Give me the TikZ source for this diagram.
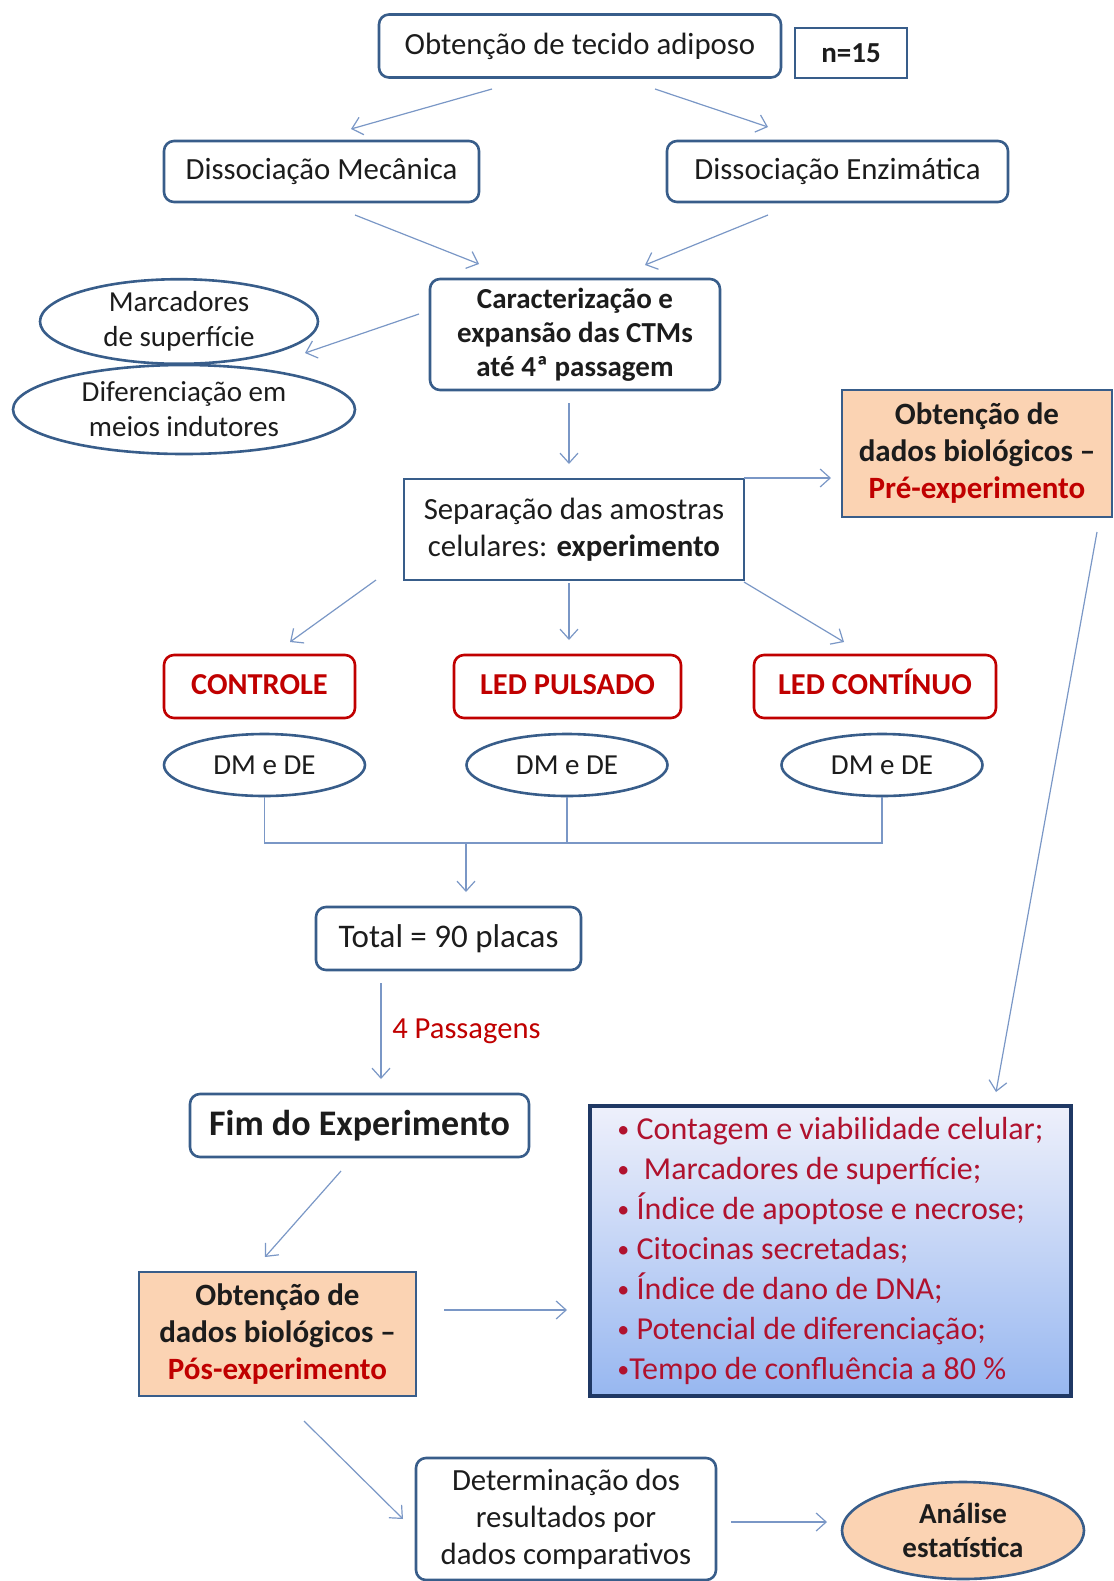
\documentclass[tikz,border=0pt]{standalone}
\usepackage{fontspec}
\setmainfont{Carlito}
\usetikzlibrary{shapes.geometric, positioning, arrows.meta, calc}
\definecolor{azul}{HTML}{385D8A}
\definecolor{marinho}{HTML}{1F3864}
\definecolor{seta}{HTML}{7A97C6}
\definecolor{verm}{HTML}{C00000}
\definecolor{rubi}{HTML}{B0122E}
\definecolor{laranja}{HTML}{FBD3B3}
\definecolor{texto}{HTML}{1C1C1C}
\definecolor{azulclaro}{HTML}{EEF0FB}
\definecolor{azulforte}{HTML}{97B7F0}
\newcommand{\bala}{\raisebox{0.12ex}{\fontsize{12}{12}\selectfont•}}

\begin{document}
\begin{tikzpicture}[x=0.5pt,y=-0.5pt,font=\fontsize{15.4}{18.5}\selectfont,
    caixa/.style={draw=azul,line width=1.3pt,rounded corners=5pt,text=texto,align=center,inner sep=1pt},
    reta/.style={draw=azul,line width=1.3pt,text=texto,align=center,inner sep=1pt},
    grupo/.style={draw=verm,line width=1.3pt,rounded corners=5pt,text=verm,font=\fontsize{15.2}{17}\selectfont\bfseries,
        minimum height=31.5pt,text height=11pt,text depth=3pt},
    elipse/.style={ellipse,draw=azul,line width=1.3pt,text=texto,align=center,inner sep=0pt,
        font=\fontsize{14.5}{17.5}\selectfont},
    dados/.style={reta,fill=laranja,font=\fontsize{15.5}{18.5}\selectfont\bfseries},
    arr/.style={seta,line width=0.6pt,-{Straight Barb[length=5pt,width=9pt]}},
    linha/.style={draw=seta,line width=0.6pt}]
    \useasboundingbox (0,0) rectangle (1114,1581);

    % etapas iniciais
    \node[caixa,minimum width=201pt,minimum height=31.5pt] (obt) at (580,46) {Obtenção de tecido adiposo};
    \node[reta,minimum width=56pt,minimum height=25pt,font=\fontsize{14.5}{17}\selectfont\bfseries] (n) at (851,53) {n=15};
    \node[caixa,minimum width=157.5pt,minimum height=30.5pt] (mec) at (321.5,171.5) {Dissociação Mecânica};
    \node[caixa,minimum width=170.5pt,minimum height=30.5pt] (enz) at (837.5,171.5) {Dissociação Enzimática};
    \node[caixa,minimum width=145pt,minimum height=55.5pt,font=\fontsize{14.5}{17}\selectfont\bfseries] (carac) at (575,334.5)
        {Caracterização e\\expansão das CTMs\\até 4ª passagem};
    \node[elipse,minimum width=139pt,minimum height=41.5pt] (marc) at (179,321.5) {Marcadores\\de superfície};
    \node[elipse,minimum width=171pt,minimum height=44.5pt] (dif) at (184,409.5) {Diferenciação em\\meios indutores};
    \node[dados,minimum width=135pt,minimum height=63.5pt] (pre) at (977,453.5)
        {Obtenção de\\dados biológicos –\\\textcolor{verm}{Pré-experimento}};
    \node[reta,minimum width=170pt,minimum height=50.5pt] (sep) at (574,529.5)
        {Separação das amostras\\celulares: \textbf{experimento}};

    % grupos
    \node[grupo,minimum width=95.5pt] (ctrl) at (259.5,686.5) {CONTROLE};
    \node[grupo,minimum width=113.5pt] (puls) at (567.5,686.5) {LED PULSADO};
    \node[grupo,minimum width=121pt] (cont) at (875,686.5) {LED CONTÍNUO};
    \node[elipse,minimum width=100.5pt,minimum height=31pt] (dm1) at (264.5,765) {DM e DE};
    \node[elipse,minimum width=100.5pt,minimum height=31pt] (dm2) at (567,765) {DM e DE};
    \node[elipse,minimum width=100.5pt,minimum height=31pt] (dm3) at (882,765) {DM e DE};

    % etapas finais
    \node[caixa,minimum width=132.5pt,minimum height=31.5pt,font=\fontsize{16.5}{19}\selectfont] (total) at (448.5,938.5) {Total = 90 placas};
    \node[caixa,minimum width=169.5pt,minimum height=31.5pt,font=\fontsize{18}{21}\selectfont\bfseries] (fim) at (359.5,1125.5) {Fim do Experimento};
    \node[reta,draw=marinho,line width=2pt,top color=azulclaro,bottom color=azulforte,minimum width=240.5pt,minimum height=145pt,
        text=rubi,align=left,font=\fontsize{16}{20}\selectfont] (lista) at (830.5,1251)
        {\bala\ Contagem e viabilidade celular;\\
         \bala\ \ Marcadores de superfície;\\
         \bala\ Índice de apoptose e necrose;\\
         \bala\ Citocinas secretadas;\\
         \bala\ Índice de dano de DNA;\\
         \bala\ Potencial de diferenciação;\\
         \bala Tempo de confluência a 80 \%};
    \node[dados,minimum width=138.5pt,minimum height=62pt] (pos) at (277.5,1334)
        {Obtenção de\\dados biológicos –\\\textcolor{verm}{Pós-experimento}};
    \node[caixa,minimum width=150pt,minimum height=61pt] (det) at (566,1519)
        {Determinação dos\\resultados por\\dados comparativos};
    \node[elipse,fill=laranja,minimum width=121pt,minimum height=48.5pt,font=\fontsize{14.5}{17}\selectfont\bfseries] (ana) at (963,1530.5)
        {Análise\\estatística};

    % pontas livres das setas
    \coordinate (a1) at (492,89);   \coordinate (b1) at (351,129);
    \coordinate (a2) at (655,89);   \coordinate (b2) at (768,127);
    \coordinate (a3) at (355,215);  \coordinate (b3) at (479,264);
    \coordinate (a4) at (768,215);  \coordinate (b4) at (645,265);
    \coordinate (a5) at (419,314);  \coordinate (b5) at (305,353);
    \coordinate (a6) at (569,403);  \coordinate (b6) at (569,464);
    \coordinate (a7) at (744,478);  \coordinate (b7) at (831,478);
    \coordinate (a8) at (1097,532); \coordinate (b8) at (996,1092);
    \coordinate (a9) at (376,580);  \coordinate (b9) at (290,642);
    \coordinate (a10) at (569,583); \coordinate (b10) at (569,640);
    \coordinate (a11) at (744,582); \coordinate (b11) at (844,642);
    \coordinate (jn) at (466,843);  \coordinate (b0) at (466,892);
    \coordinate (p4) at (381,983);  \coordinate (q4) at (381,1079);
    \coordinate (a12) at (341,1171); \coordinate (b12) at (265,1257);
    \coordinate (a13) at (444,1310); \coordinate (b13) at (567,1310);
    \coordinate (a14) at (304,1421); \coordinate (b14) at (403,1519);
    \coordinate (a15) at (731,1522); \coordinate (b15) at (827,1522);

    \path[arr]
        (a1) edge (b1)
        (a2) edge (b2)
        (a3) edge (b3)
        (a4) edge (b4)
        (a5) edge (b5)
        (a6) edge (b6)
        (a7) edge (b7)
        (a8) edge (b8)
        (a9) edge (b9)
        (a10) edge (b10)
        (a11) edge (b11)
        (jn) edge (b0)
        (p4) edge node[right=2pt,text=verm,font=\fontsize{15.3}{18}\selectfont] {4 Passagens} (q4)
        (a12) edge (b12)
        (a13) edge (b13)
        (a14) edge (b14)
        (a15) edge (b15)
        ;

    % junção dos grupos
    \draw[linha] (dm1.south) |- (jn -| dm3.south) -- (dm3.south);
    \draw[linha] (dm2.south) -- (dm2.south |- jn);
\end{tikzpicture}
\end{document}
